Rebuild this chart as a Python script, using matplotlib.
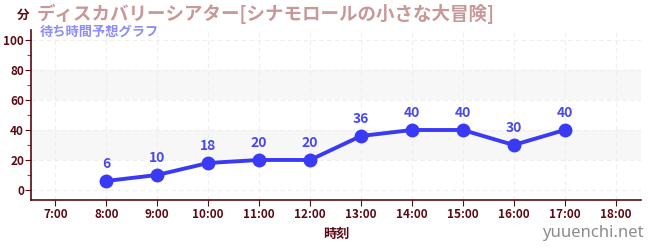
import matplotlib
matplotlib.use("Agg")
import matplotlib.pyplot as plt
from matplotlib.ticker import MultipleLocator

plt.rcParams['font.family'] = ['Noto Sans CJK JP', 'DejaVu Sans']

hours = [8, 9, 10, 11, 12, 13, 14, 15, 16, 17]
waits = [6, 10, 18, 20, 20, 36, 40, 40, 30, 40]
tick_hours = list(range(7, 19))
tick_labels = [f"{h}:00" for h in tick_hours]
y_ticks = [0, 20, 40, 60, 80, 100]
title = "ディスカバリーシアター[シナモロールの小さな大冒険]"
subtitle = "待ち時間予想グラフ"
ylabel = "分"
xlabel = "時刻"
watermark = "yuuenchi.net"

dark = "#5a0a14"
line_c = "#3a3af5"

fig = plt.figure(figsize=(6.5, 2.5), dpi=100)
ax = fig.add_axes([0.0477, 0.2, 0.9385, 0.68])
ax.set_xlim(6.52, 18.5)
ax.set_ylim(-6.7, 106.7)

for lo, hi in [(20, 40), (60, 80)]:
    ax.axhspan(lo, hi, color="#f7f7f7", zorder=0, lw=0)

ax.grid(True, which='major', color="#eeeeee", linestyle=(0, (4, 3)), linewidth=0.8, zorder=1)
ax.set_xticks(tick_hours)
ax.set_xticklabels(tick_labels)
ax.set_yticks(y_ticks)
ax.yaxis.set_minor_locator(MultipleLocator(10))
ax.tick_params(axis='y', which='minor', length=3, color="#dd2222", width=0.8)
ax.tick_params(axis='both', which='major', length=4, color=dark, width=0.8,
               labelcolor=dark, labelsize=8.5)
ax.tick_params(axis='x', pad=2)
ax.tick_params(axis='y', pad=1)
for lab in ax.get_xticklabels() + ax.get_yticklabels():
    lab.set_fontweight('bold')

for s in ['top', 'right']:
    ax.spines[s].set_visible(False)
for s in ['left', 'bottom']:
    ax.spines[s].set_color(dark)
    ax.spines[s].set_linewidth(1.2)

ax.plot(hours, waits, color=line_c, linewidth=2.8, marker='o', markersize=9, zorder=3,
        clip_on=False)
for h, w in zip(hours, waits):
    ax.annotate(str(w), (h, w), xytext=(0, 7), textcoords='offset points',
                ha='center', va='bottom', color="#4848f0", fontsize=10, fontweight='bold')

fig.text(0.035, 0.94, ylabel, color=dark, fontsize=9, fontweight='bold', va='center', ha='center')
fig.text(0.057, 0.945, title, color="#c89898", fontsize=13.3, fontweight='bold', va='center', ha='left')
fig.text(0.061, 0.872, subtitle, color="#8c8cfa", fontsize=9.5, fontweight='bold', va='center', ha='left')
fig.text(0.518, 0.066, xlabel, color=dark, fontsize=9.5, fontweight='bold', va='center', ha='center')
fig.text(0.99, 0.068, watermark, color="#8c8c8c", fontsize=12, va='center', ha='right',
         family=['Noto Sans', 'DejaVu Sans'])

fig.savefig("out.png", dpi=100)
